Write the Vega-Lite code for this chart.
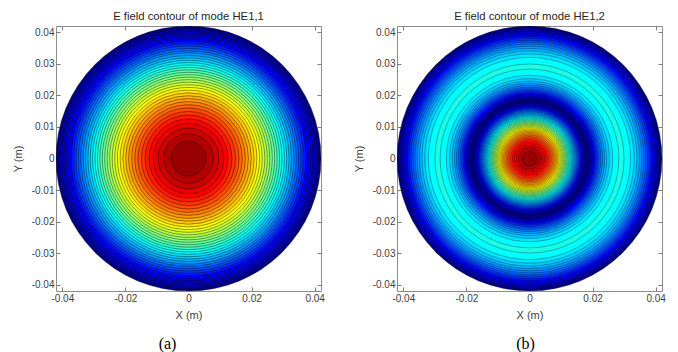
{
  "$schema": "https://vega.github.io/schema/vega-lite/v6.json",
  "padding": {"left": 11, "top": 10, "right": 5, "bottom": 0},
  "background": "white",
  "datasets": {
    "he11": [
      {"r": 0.04200, "e": 0}, {"r": 0.04118, "e": 0.025}, {"r": 0.04034, "e": 0.05}, {"r": 0.03954, "e": 0.075},
      {"r": 0.03875, "e": 0.1}, {"r": 0.03797, "e": 0.125}, {"r": 0.03720, "e": 0.15}, {"r": 0.03641, "e": 0.175},
      {"r": 0.03566, "e": 0.2}, {"r": 0.03489, "e": 0.225}, {"r": 0.03414, "e": 0.25}, {"r": 0.03339, "e": 0.275},
      {"r": 0.03264, "e": 0.3}, {"r": 0.03189, "e": 0.325}, {"r": 0.03114, "e": 0.35}, {"r": 0.03039, "e": 0.375},
      {"r": 0.02964, "e": 0.4}, {"r": 0.02887, "e": 0.425}, {"r": 0.02810, "e": 0.45}, {"r": 0.02733, "e": 0.475},
      {"r": 0.02656, "e": 0.5}, {"r": 0.02578, "e": 0.525}, {"r": 0.02499, "e": 0.55}, {"r": 0.02419, "e": 0.575},
      {"r": 0.02337, "e": 0.6}, {"r": 0.02253, "e": 0.625}, {"r": 0.02167, "e": 0.65}, {"r": 0.02082, "e": 0.675},
      {"r": 0.01991, "e": 0.7}, {"r": 0.01900, "e": 0.725}, {"r": 0.01804, "e": 0.75}, {"r": 0.01706, "e": 0.775},
      {"r": 0.01603, "e": 0.8}, {"r": 0.01493, "e": 0.825}, {"r": 0.01378, "e": 0.85}, {"r": 0.01254, "e": 0.875},
      {"r": 0.01118, "e": 0.9}, {"r": 0.00964, "e": 0.925}, {"r": 0.00786, "e": 0.95}, {"r": 0.00554, "e": 0.975}
    ],
    "he12": [
      {"r": 0.04200, "e": 0}, {"r": 0.04144, "e": 0.025}, {"r": 0.04090, "e": 0.05}, {"r": 0.04034, "e": 0.075},
      {"r": 0.03979, "e": 0.1}, {"r": 0.03924, "e": 0.125}, {"r": 0.03867, "e": 0.15}, {"r": 0.03810, "e": 0.175},
      {"r": 0.03751, "e": 0.2}, {"r": 0.03690, "e": 0.225}, {"r": 0.03627, "e": 0.25}, {"r": 0.03560, "e": 0.275},
      {"r": 0.03488, "e": 0.3}, {"r": 0.03408, "e": 0.325}, {"r": 0.03317, "e": 0.35}, {"r": 0.03203, "e": 0.375},
      {"r": 0.02996, "e": 0.4}, {"r": 0.02833, "e": 0.375}, {"r": 0.02639, "e": 0.35}, {"r": 0.02533, "e": 0.325},
      {"r": 0.02450, "e": 0.3}, {"r": 0.02380, "e": 0.275}, {"r": 0.02318, "e": 0.25}, {"r": 0.02261, "e": 0.225},
      {"r": 0.02208, "e": 0.2}, {"r": 0.02159, "e": 0.175}, {"r": 0.02113, "e": 0.15}, {"r": 0.02068, "e": 0.125},
      {"r": 0.02025, "e": 0.1}, {"r": 0.01984, "e": 0.075}, {"r": 0.01944, "e": 0.05}, {"r": 0.01904, "e": 0.025},
      {"r": 0.01867, "e": 0}, {"r": 0.01794, "e": 0.025}, {"r": 0.01758, "e": 0.05}, {"r": 0.01723, "e": 0.075},
      {"r": 0.01688, "e": 0.1}, {"r": 0.01654, "e": 0.125}, {"r": 0.01621, "e": 0.15}, {"r": 0.01586, "e": 0.175},
      {"r": 0.01554, "e": 0.2}, {"r": 0.01520, "e": 0.225}, {"r": 0.01487, "e": 0.25}, {"r": 0.01455, "e": 0.275},
      {"r": 0.01422, "e": 0.3}, {"r": 0.01389, "e": 0.325}, {"r": 0.01357, "e": 0.35}, {"r": 0.01324, "e": 0.375},
      {"r": 0.01291, "e": 0.4}, {"r": 0.01258, "e": 0.425}, {"r": 0.01224, "e": 0.45}, {"r": 0.01191, "e": 0.475},
      {"r": 0.01157, "e": 0.5}, {"r": 0.01123, "e": 0.525}, {"r": 0.01089, "e": 0.55}, {"r": 0.01054, "e": 0.575},
      {"r": 0.01018, "e": 0.6}, {"r": 0.00982, "e": 0.625}, {"r": 0.00944, "e": 0.65}, {"r": 0.00907, "e": 0.675},
      {"r": 0.00867, "e": 0.7}, {"r": 0.00828, "e": 0.725}, {"r": 0.00786, "e": 0.75}, {"r": 0.00743, "e": 0.775},
      {"r": 0.00698, "e": 0.8}, {"r": 0.00651, "e": 0.825}, {"r": 0.00600, "e": 0.85}, {"r": 0.00546, "e": 0.875},
      {"r": 0.00487, "e": 0.9}, {"r": 0.00420, "e": 0.925}, {"r": 0.00342, "e": 0.95}, {"r": 0.00241, "e": 0.975}
    ]
  },
  "spacing": 27,
  "hconcat": [
    {
      "width": 265, "height": 265,
      "title": {"text": "E field contour of mode HE1,1"},
      "data": {"name": "he11"},
      "layer": [
        {
          "mark": {"type": "circle", "opacity": 1, "stroke": "#000000", "strokeWidth": 0.5, "strokeOpacity": 0.8, "clip": true},
          "encoding": {
            "x": {"datum": 0, "type": "quantitative", "scale": {"domain": [-0.042, 0.042], "nice": false, "zero": false},
              "axis": {"orient": "bottom", "title": "X (m)", "values": [-0.04, -0.02, 0, 0.02, 0.04], "labelExpr": "''+datum.value", "tickSize": -4, "labelPadding": 6, "titlePadding": 6}},
            "y": {"datum": 0, "type": "quantitative", "scale": {"domain": [-0.042, 0.042], "nice": false, "zero": false},
              "axis": {"orient": "left", "title": "Y (m)", "values": [-0.04, -0.03, -0.02, -0.01, 0, 0.01, 0.02, 0.03, 0.04], "labelExpr": "''+datum.value", "tickSize": -4, "labelPadding": 6, "titlePadding": 8}},
            "size": {"field": "r", "type": "quantitative", "scale": {"type": "pow", "exponent": 2, "domain": [0, 0.042], "range": [0, 70225]}, "legend": null},
            "color": {"field": "e", "type": "quantitative", "scale": {"domain": [0, 0.125, 0.375, 0.625, 0.875, 1], "range": ["#000086", "#0000ff", "#00ffff", "#ffff00", "#ff0000", "#800000"], "interpolate": "rgb"}, "legend": null},
            "order": {"field": "r", "sort": "descending"}
          }
        },
        {
          "mark": {"type": "point", "opacity": 0},
          "encoding": {
            "x": {"datum": 0, "type": "quantitative", "scale": {"domain": [-0.042, 0.042], "nice": false, "zero": false},
              "axis": {"orient": "top", "title": null, "labels": false, "values": [-0.04, -0.02, 0, 0.02, 0.04], "tickSize": -4}},
            "y": {"datum": 0, "type": "quantitative", "scale": {"domain": [-0.042, 0.042], "nice": false, "zero": false},
              "axis": {"orient": "right", "title": null, "labels": false, "values": [-0.04, -0.03, -0.02, -0.01, 0, 0.01, 0.02, 0.03, 0.04], "tickSize": -4}}
          }
        },
        {
          "mark": {"type": "point", "opacity": 0},
          "encoding": {
            "x": {"datum": 0, "type": "quantitative", "scale": {"domain": [-0.042, 0.042], "nice": false, "zero": false},
              "axis": {"orient": "bottom", "title": "(a)", "labels": false, "ticks": false, "titleFont": "Liberation Serif", "titleFontSize": 16, "titleColor": "#000000", "titlePadding": 44, "titleX": 111}},
            "y": {"datum": 0, "type": "quantitative", "scale": {"domain": [-0.042, 0.042], "nice": false, "zero": false}, "axis": null}
          }
        }
      ],
      "resolve": {"axis": {"x": "independent", "y": "independent"}}
    },
    {
      "width": 265, "height": 265,
      "title": {"text": "E field contour of mode HE1,2"},
      "data": {"name": "he12"},
      "layer": [
        {
          "mark": {"type": "circle", "opacity": 1, "stroke": "#000000", "strokeWidth": 0.5, "strokeOpacity": 0.6, "clip": true},
          "encoding": {
            "x": {"datum": 0, "type": "quantitative", "scale": {"domain": [-0.042, 0.042], "nice": false, "zero": false},
              "axis": {"orient": "bottom", "title": "X (m)", "values": [-0.04, -0.02, 0, 0.02, 0.04], "labelExpr": "''+datum.value", "tickSize": -4, "labelPadding": 6, "titlePadding": 6}},
            "y": {"datum": 0, "type": "quantitative", "scale": {"domain": [-0.042, 0.042], "nice": false, "zero": false},
              "axis": {"orient": "left", "title": "Y (m)", "values": [-0.04, -0.03, -0.02, -0.01, 0, 0.01, 0.02, 0.03, 0.04], "labelExpr": "''+datum.value", "tickSize": -4, "labelPadding": 6, "titlePadding": 8}},
            "size": {"field": "r", "type": "quantitative", "scale": {"type": "pow", "exponent": 2, "domain": [0, 0.042], "range": [0, 70225]}, "legend": null},
            "color": {"field": "e", "type": "quantitative", "scale": {"domain": [0, 0.125, 0.375, 0.625, 0.875, 1], "range": ["#000086", "#0000ff", "#00ffff", "#ffff00", "#ff0000", "#800000"], "interpolate": "rgb"}, "legend": null},
            "order": {"field": "r", "sort": "descending"}
          }
        },
        {
          "mark": {"type": "point", "opacity": 0},
          "encoding": {
            "x": {"datum": 0, "type": "quantitative", "scale": {"domain": [-0.042, 0.042], "nice": false, "zero": false},
              "axis": {"orient": "top", "title": null, "labels": false, "values": [-0.04, -0.02, 0, 0.02, 0.04], "tickSize": -4}},
            "y": {"datum": 0, "type": "quantitative", "scale": {"domain": [-0.042, 0.042], "nice": false, "zero": false},
              "axis": {"orient": "right", "title": null, "labels": false, "values": [-0.04, -0.03, -0.02, -0.01, 0, 0.01, 0.02, 0.03, 0.04], "tickSize": -4}}
          }
        },
        {
          "mark": {"type": "point", "opacity": 0},
          "encoding": {
            "x": {"datum": 0, "type": "quantitative", "scale": {"domain": [-0.042, 0.042], "nice": false, "zero": false},
              "axis": {"orient": "bottom", "title": "(b)", "labels": false, "ticks": false, "titleFont": "Liberation Serif", "titleFontSize": 16, "titleColor": "#000000", "titlePadding": 44, "titleX": 128}},
            "y": {"datum": 0, "type": "quantitative", "scale": {"domain": [-0.042, 0.042], "nice": false, "zero": false}, "axis": null}
          }
        }
      ],
      "resolve": {"axis": {"x": "independent", "y": "independent"}}
    }
  ],
  "config": {
    "view": {"stroke": "#8c8c8c", "strokeWidth": 1},
    "axis": {"domain": false, "grid": false, "labelFont": "Liberation Sans", "labelFontSize": 10, "labelColor": "#404040", "titleFont": "Liberation Sans", "titleFontSize": 11, "titleFontWeight": "normal", "titleColor": "#404040", "tickColor": "#7f7f7f"},
    "title": {"font": "Liberation Sans", "fontSize": 11.3, "fontWeight": "normal", "color": "#262626", "offset": 3}
  }
}
